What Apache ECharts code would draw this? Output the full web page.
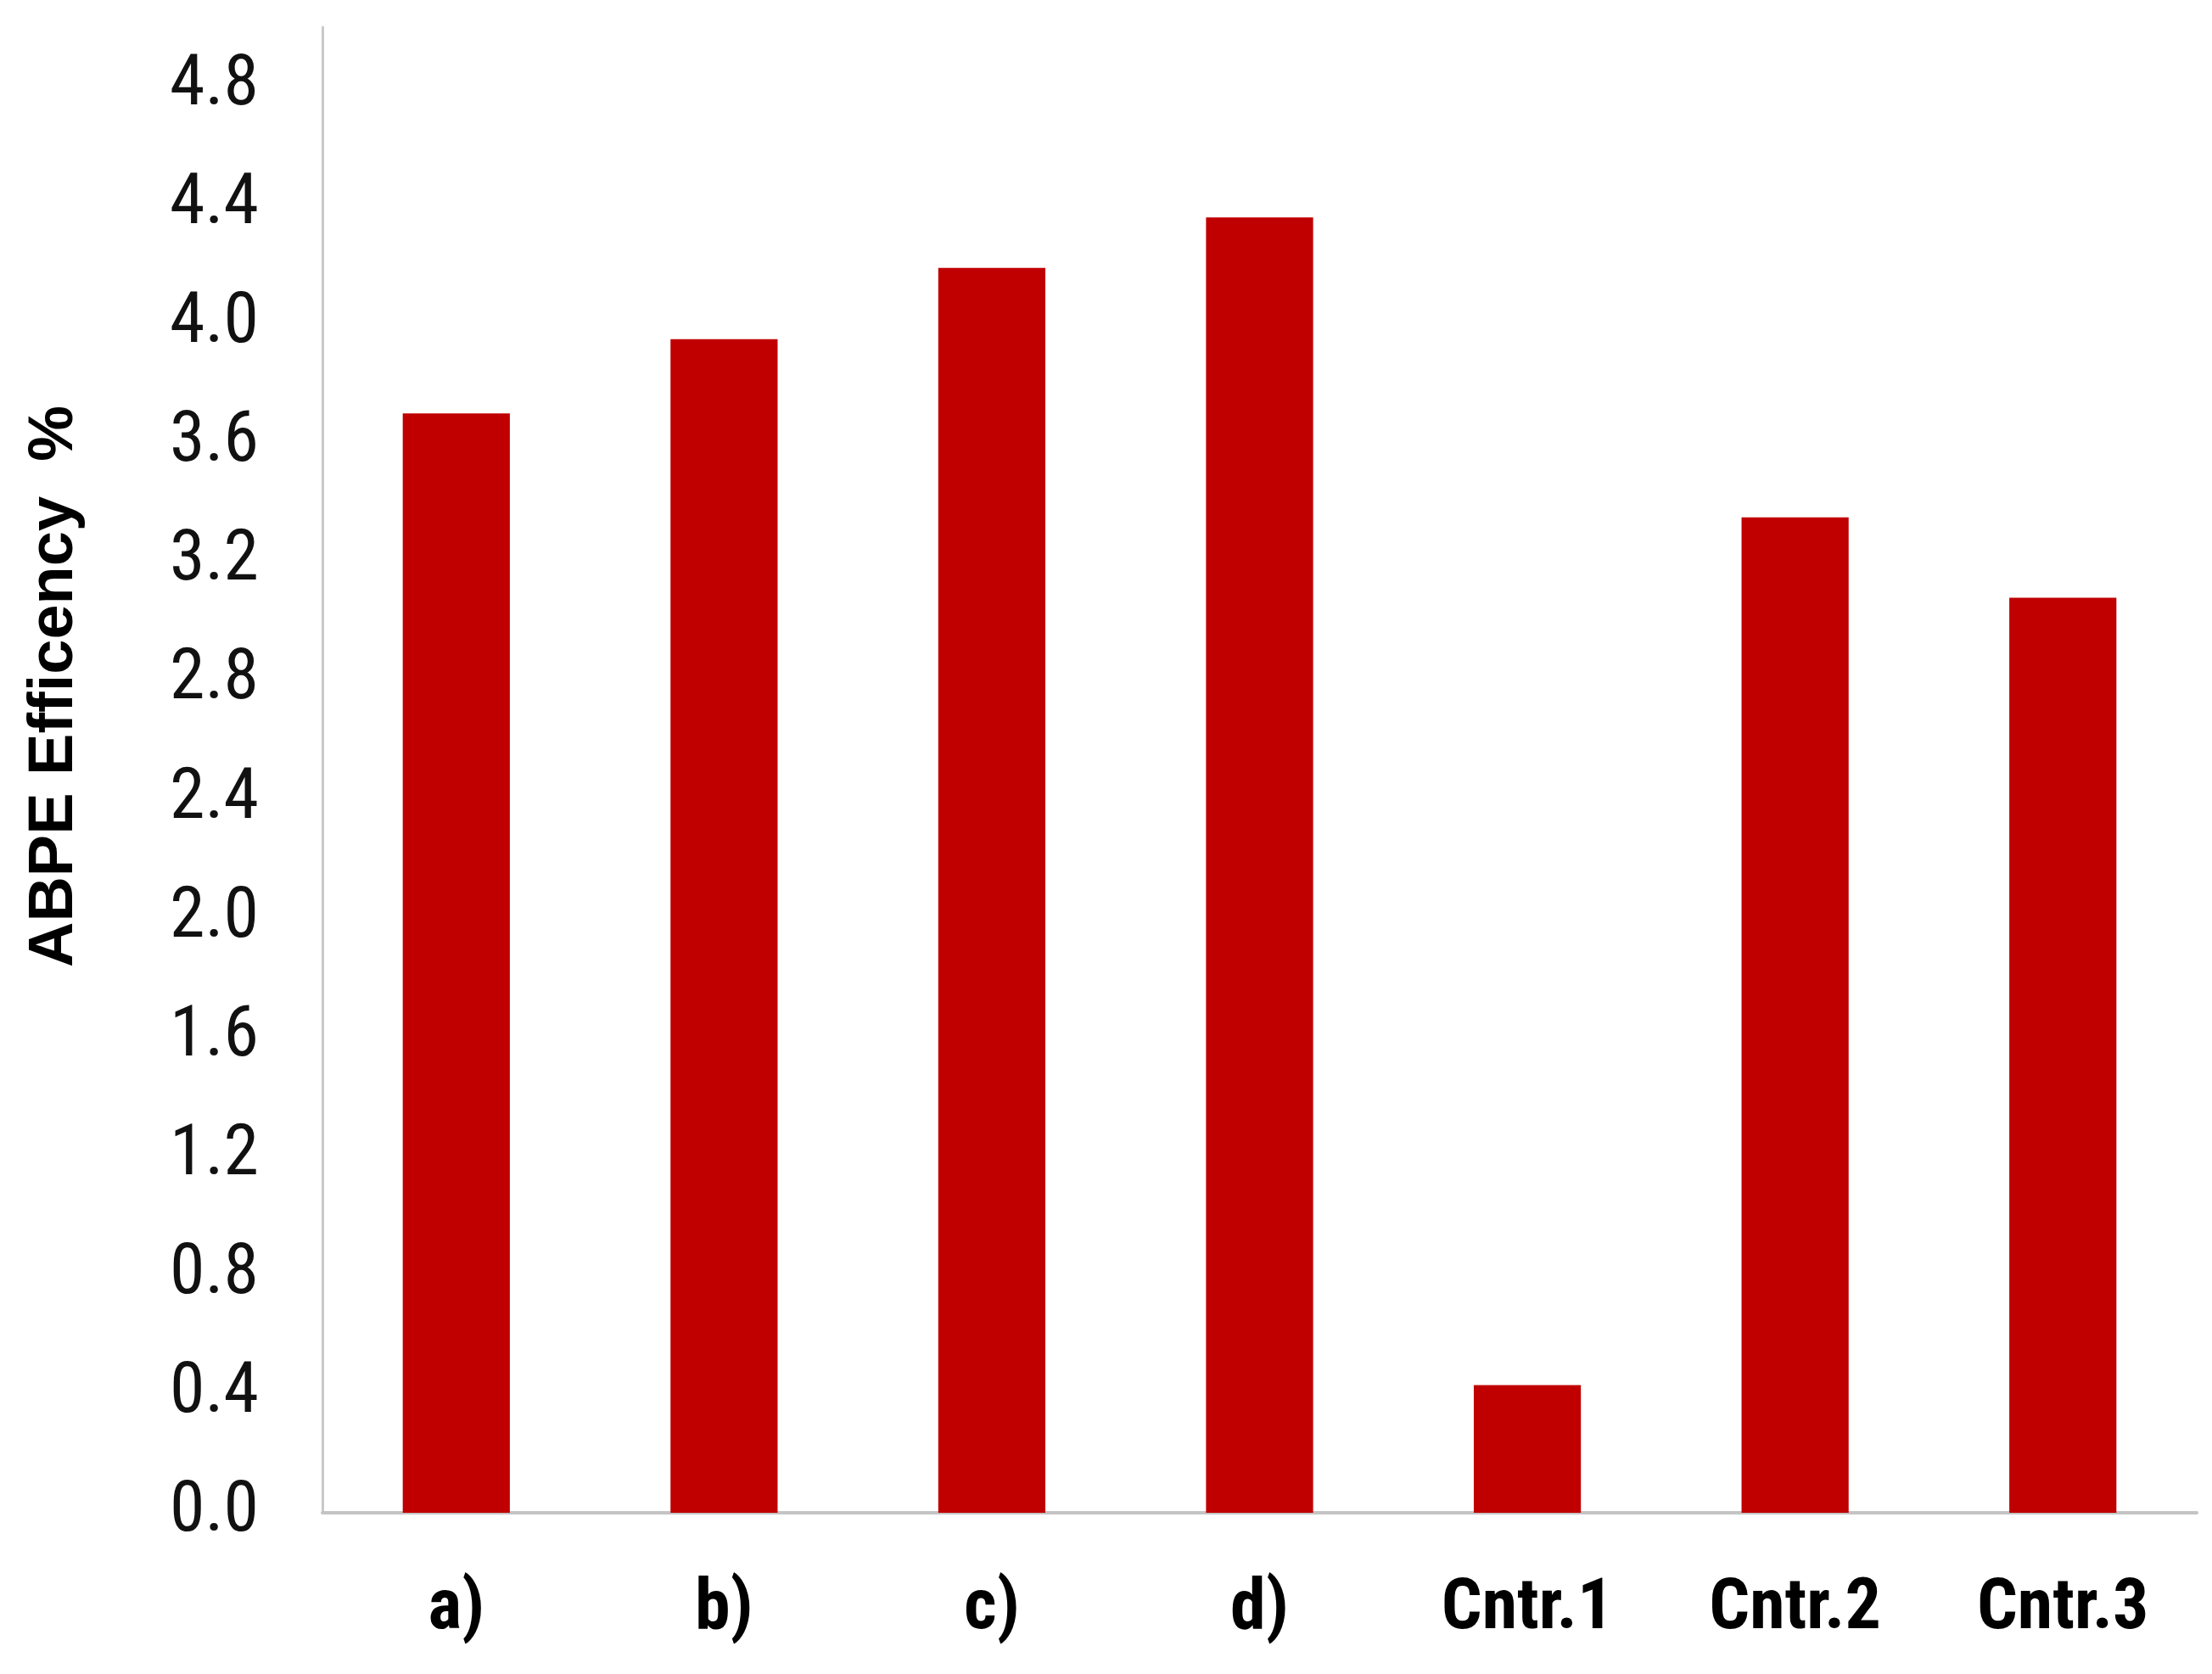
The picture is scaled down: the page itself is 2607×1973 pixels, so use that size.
<!DOCTYPE html>
<html>
<head>
<meta charset="utf-8">
<title>ABPE Efficency</title>
<script src="https://cdn.jsdelivr.net/npm/echarts@6/dist/echarts.min.js"></script>
<style>
  html, body { margin: 0; padding: 0; background: #fff; }
  #main { width: 2607px; height: 1973px; }
</style>
</head>
<body>
<div id="main"></div>
<script>
// samples on the x axis
var categories = ['a)', 'b)', 'c)', 'd)', 'Cntr.1', 'Cntr.2', 'Cntr.3'];
// ABPE efficiency, %
var abpeValues = [3.70, 3.95, 4.19, 4.36, 0.43, 3.35, 3.08];
// y axis
var yMin = 0;
var yMax = 5.0;
var yStep = 0.4;
var yTitle = 'ABPE Efficency  %';

// condensed face for the tick labels
var narrow = "'Roboto Condensed', 'Liberation Sans Narrow', 'Liberation Sans', sans-serif";

var myChart = echarts.init(document.getElementById('main'));

var option = {
  backgroundColor: '#ffffff',
  animation: false,
  grid: {
    left: 380,
    right: 18,
    top: 32,
    bottom: 190,
    containLabel: false,
    outerBoundsMode: 'none'
  },
  xAxis: {
    type: 'category',
    data: categories,
    axisLine: { show: true, lineStyle: { color: '#c4c4c4', width: 4 } },
    axisTick: { show: false },
    axisLabel: {
      margin: 73,
      color: '#000',
      fontFamily: narrow,
      fontWeight: 'bold',
      fontSize: 84
    },
    splitLine: { show: false }
  },
  yAxis: {
    type: 'value',
    min: yMin,
    max: yMax,
    interval: yStep,
    axisLine: { show: true, lineStyle: { color: '#c8c8c8', width: 3 } },
    axisTick: { show: false },
    splitLine: { show: false },
    axisLabel: {
      margin: 75,
      color: '#111',
      fontFamily: narrow,
      fontSize: 84,
      showMaxLabel: false,
      formatter: function (v) { return v.toFixed(1); }
    }
  },
  graphic: [{
    type: 'text',
    x: 65,
    y: 809,
    rotation: Math.PI / 2,
    style: {
      text: yTitle,
      fill: '#000',
      font: "bold 74px 'Liberation Sans', sans-serif",
      textAlign: 'center',
      textVerticalAlign: 'middle'
    }
  }],
  series: [{
    type: 'bar',
    data: abpeValues,
    barWidth: '40%',
    itemStyle: { color: '#c00000' }
  }]
};

myChart.setOption(option);
</script>
</body>
</html>
